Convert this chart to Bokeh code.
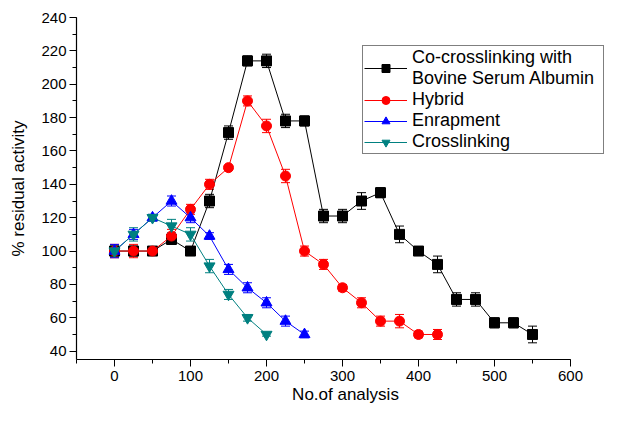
from bokeh.plotting import figure
from bokeh.models import (ColumnDataSource, Range1d, Whisker, TeeHead, Legend, LegendItem,
                          SingleIntervalTicker)
from bokeh.embed import file_html
from bokeh.resources import INLINE

# ---- data ----
bsa_x = [0, 25, 50, 75, 100, 125, 150, 175, 200, 225, 250, 275, 300, 325, 350, 375, 400, 425, 450, 475, 500, 525, 550]
bsa_y = [100, 100, 100, 107, 100, 130, 171, 214, 214, 178, 178, 121, 121, 130, 135, 110, 100, 92, 71, 71, 57, 57, 50]
bsa_err = [3, 3, 1, 3, 1, 4, 4, 3, 4, 4, 3, 4, 4, 5, 3, 5, 1, 5, 4, 4, 3, 3, 5]

hyb_x = [0, 25, 50, 75, 100, 125, 150, 175, 200, 225, 250, 275, 300, 325, 350, 375, 400, 425]
hyb_y = [100, 100, 100, 109, 125, 140, 150, 190, 175, 145, 100, 92, 78, 69, 58, 58, 50, 50]
hyb_err = [4, 4, 1, 4, 3, 3, 1, 3, 4, 4, 3, 3, 2, 3, 3, 4, 2, 3]

ent_x = [0, 25, 50, 75, 100, 125, 150, 175, 200, 225, 250]
ent_y = [100, 110, 120, 130, 120, 109, 89, 78, 69, 58, 50]
ent_err = [4, 3, 2, 3, 3, 2, 3, 3, 3, 3, 2]

crl_x = [0, 25, 50, 75, 100, 125, 150, 175, 200]
crl_y = [100, 110, 120, 115, 110, 91, 74, 60, 50]
crl_err = [3, 4, 2, 4, 4, 4, 3, 2, 1]

labels = ["Co-crosslinking with\nBovine Serum Albumin", "Hybrid", "Enrapment", "Crosslinking"]
colors = ["#000000", "#FF0000", "#0000FF", "#008080"]
markers = ["square", "circle", "triangle", "inverted_triangle"]
sizes = [10, 10, 11, 11]

FONT = "Liberation Sans"

# frame extends a little past x=600 so the legend (which sits beyond the axis end) is not clipped
p = figure(frame_width=538, frame_height=342, output_backend="svg", toolbar_location=None,
           x_range=Range1d(-50, 600 + 44 * 650 / 494), y_range=Range1d(35, 240),
           min_border_left=76, min_border_right=0, min_border_top=17, min_border_bottom=46)
p.outline_line_color = None
p.grid.visible = False
p.background_fill_color = "white"
p.border_fill_color = "white"

p.xaxis.ticker = SingleIntervalTicker(interval=100, num_minor_ticks=2)
p.yaxis.ticker = SingleIntervalTicker(interval=20, num_minor_ticks=2)
p.xaxis.bounds = (-50, 600)
for ax in (p.xaxis[0], p.yaxis[0]):
    ax.axis_line_color = "black"
    ax.axis_line_width = 1.2
    ax.major_tick_line_color = "black"
    ax.minor_tick_line_color = "black"
    ax.major_tick_out = 7
    ax.major_tick_in = 0
    ax.minor_tick_out = 4
    ax.minor_tick_in = 0
    ax.major_label_text_font = FONT
    ax.major_label_text_font_size = "15px"
    ax.major_label_text_color = "black"
    ax.axis_label_text_font = FONT
    ax.axis_label_text_font_size = "17px"
    ax.axis_label_text_font_style = "normal"
    ax.axis_label_text_color = "black"
p.xaxis.axis_label = "No.of analysis"
p.yaxis.axis_label = "% residual activity"
p.xaxis.major_label_standoff = 4
p.xaxis.axis_label_standoff = 1
p.yaxis.major_label_standoff = 3
p.yaxis.axis_label_standoff = 10

items = []
series = [(bsa_x, bsa_y, bsa_err), (hyb_x, hyb_y, hyb_err), (ent_x, ent_y, ent_err), (crl_x, crl_y, crl_err)]
for (xs, ys, es), lab, col, mk, sz in zip(series, labels, colors, markers, sizes):
    src = ColumnDataSource(dict(x=xs, y=ys,
                                lo=[a - b for a, b in zip(ys, es)],
                                hi=[a + b for a, b in zip(ys, es)]))
    w = Whisker(source=src, base="x", lower="lo", upper="hi", line_color=col, line_width=1,
                upper_head=TeeHead(size=9, line_color=col, line_width=1),
                lower_head=TeeHead(size=9, line_color=col, line_width=1))
    p.add_layout(w)
    ln = p.line("x", "y", source=src, line_color=col, line_width=1)
    sc = p.scatter("x", "y", source=src, marker=mk, size=sz, fill_color=col, line_color=col)
    items.append(LegendItem(label=lab, renderers=[ln, sc]))

leg = Legend(items=items, location=(286, 205), border_line_color="black", border_line_width=1,
             background_fill_color="white", background_fill_alpha=1,
             label_text_font=FONT, label_text_font_size="18px", label_text_color="black",
             glyph_width=43, glyph_height=20, label_height=20, label_width=190, spacing=0,
             padding=1, label_standoff=5, margin=0)
p.add_layout(leg)

open("out.html", "w").write(file_html(p, INLINE))
